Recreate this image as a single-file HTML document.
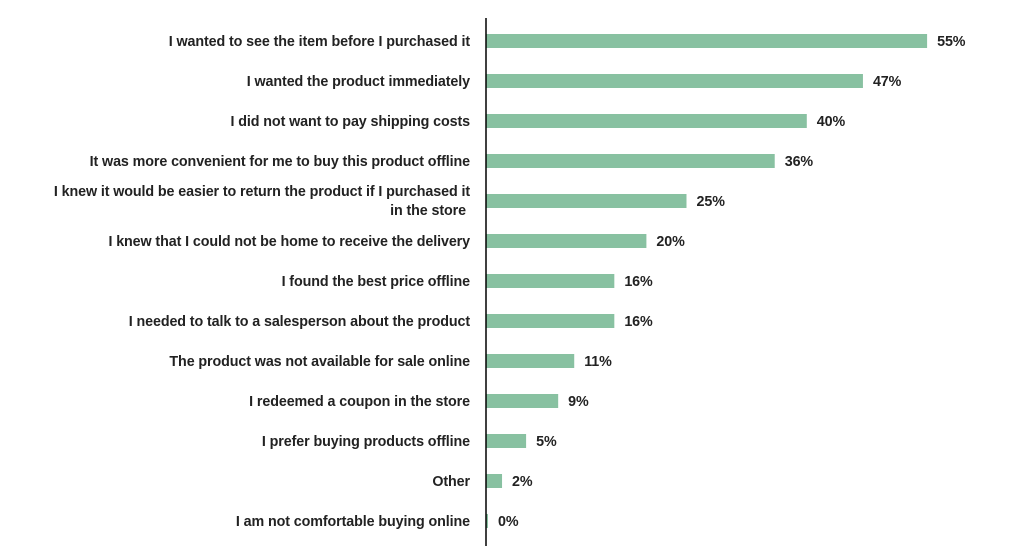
<!DOCTYPE html>
<html><head><meta charset="utf-8"><style>
body{margin:0;background:#fff;width:1024px;height:546px;overflow:hidden}
svg text{font-family:"Liberation Sans",sans-serif;font-size:14.3px;font-weight:bold;fill:#222;letter-spacing:-0.1px}
</style></head><body>
<svg id="chart" width="1024" height="546" xmlns="http://www.w3.org/2000/svg"></svg>
<script>
const categories=["I wanted to see the item before I purchased it","I wanted the product immediately","I did not want to pay shipping costs","It was more convenient for me to buy this product offline","I knew it would be easier to return the product if I purchased it|in the store","I knew that I could not be home to receive the delivery","I found the best price offline","I needed to talk to a salesperson about the product","The product was not available for sale online","I redeemed a coupon in the store","I prefer buying products offline","Other","I am not comfortable buying online"];
const values=[55,47,40,36,25,20,16,16,11,9,5,2,0];
const valueLabels=["55%","47%","40%","36%","25%","20%","16%","16%","11%","9%","5%","2%","0%"];
const svg=document.getElementById('chart');const NS="http://www.w3.org/2000/svg";
const x0=486,scale=8.02;
const x=v=>x0+v*scale;
const y=i=>41+i*40;
function mk(t,a){const e=document.createElementNS(NS,t);for(const k in a)e.setAttribute(k,a[k]);svg.appendChild(e);return e;}
values.forEach((v,i)=>{
  const w=Math.max(x(v)-x0,2);
  const r=mk('rect',{x:x0,y:y(i)-7,width:w,height:14,fill:'#88c1a1'});
  
  
  const t=mk('text',{x:x0+w+10,y:y(i)+5});t.textContent=valueLabels[i];
  
  
  const lines=categories[i].split('|');
  lines.forEach((ln,j)=>{
    const c=mk('text',{x:lines.length>1&&j==1?466:470,y:y(i)+5+(lines.length>1?(j==0?-10:9):0),'text-anchor':'end'});
    c.textContent=ln;
    
    
  });
});
const ax=mk('line',{x1:x0,y1:18,x2:x0,y2:546,stroke:'#000','stroke-width':1.5});


</script>
</body></html>
